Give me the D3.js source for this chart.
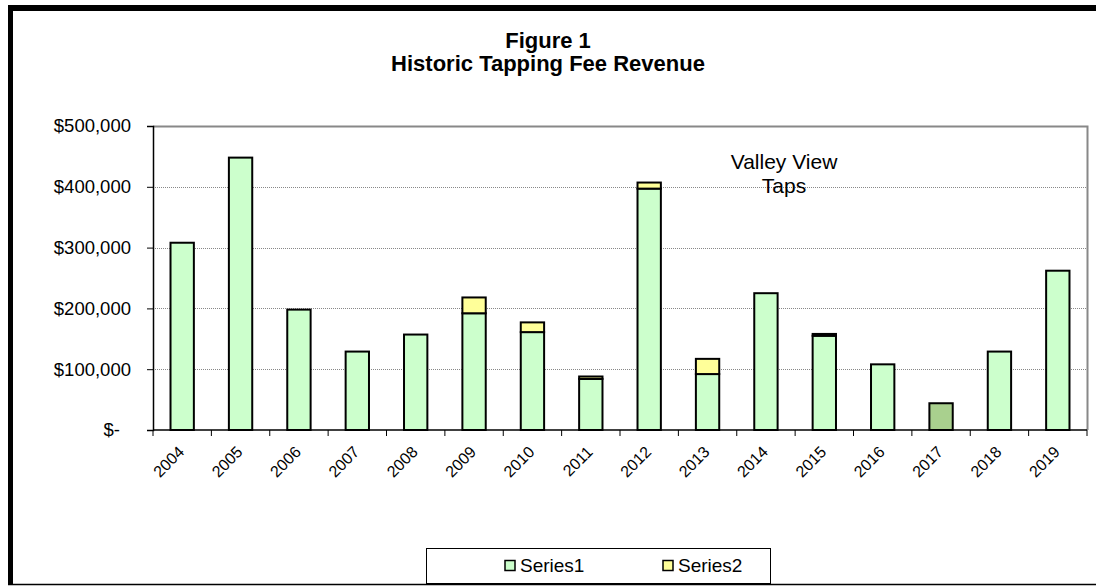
<!DOCTYPE html>
<html>
<head>
<meta charset="utf-8">
<script src="https://cdn.jsdelivr.net/npm/d3@7"></script>
<style>
  body { margin: 0; background: #fff; }
  svg { display: block; font-family: "Liberation Sans", Arial, sans-serif; }
</style>
</head>
<body>
<svg id="chart" width="1096" height="586"></svg>
<script>
// values
let years = ["2004","2005","2006","2007","2008","2009","2010","2011",
             "2012","2013","2014","2015","2016","2017","2018","2019"];
let series1 = [308000, 448000, 198000, 129000, 157000, 192000, 161000, 84000,
               397000, 92000, 225000, 155000, 108000, 44000, 129000, 262000];
let series2 = [0, 0, 0, 0, 0, 26000, 16000, 4000,
               10000, 25000, 0, 3000, 0, 0, 0, 0];
let yTicks = [0, 100000, 200000, 300000, 400000, 500000];
let seriesNames = ["Series1", "Series2"];

let svg = d3.select("#chart");
let plotLeft = 153, plotRight = 1087, plotTop = 126, plotBottom = 430;

let x = d3.scaleBand()
  .domain(years)
  .range([plotLeft, plotRight])
  .paddingInner(0.6)
  .paddingOuter(0.3);
let xEdge = d3.scaleLinear()
  .domain([0, years.length])
  .range([plotLeft, plotRight]);
let y = d3.scaleLinear()
  .domain([0, 500000])
  .range([plotBottom, plotTop]);

// outer frame
svg.append("line").attr("x1", 8).attr("x2", 1096).attr("y1", 8).attr("y2", 8)
  .attr("stroke", "#000").attr("stroke-width", 6);
svg.append("line").attr("x1", 10.5).attr("x2", 10.5).attr("y1", 5).attr("y2", 585)
  .attr("stroke", "#000").attr("stroke-width", 5);
svg.append("line").attr("x1", 8).attr("x2", 1096).attr("y1", 584.5).attr("y2", 584.5)
  .attr("stroke", "#000").attr("stroke-width", 1.5);

// title
let title = svg.append("text")
  .attr("x", 548).attr("text-anchor", "middle")
  .style("font-weight", "bold").style("font-size", "22px");
title.append("tspan").attr("x", 548).attr("y", 48).text("Figure 1");
title.append("tspan").attr("x", 548).attr("y", 71).text("Historic Tapping Fee Revenue");

// gridlines
svg.append("g")
  .selectAll("line")
  .data(yTicks.filter(d => d > 0 && d < 500000))
  .enter().append("line")
  .attr("x1", plotLeft).attr("x2", plotRight)
  .attr("y1", d => Math.round(y(d)) + 0.5).attr("y2", d => Math.round(y(d)) + 0.5)
  .attr("stroke", "#888").attr("stroke-dasharray", "1,1");

// plot border top / right
svg.append("path")
  .attr("d", `M${plotLeft},${plotTop + 0.5}H${plotRight + 0.5}V${plotBottom}`)
  .attr("fill", "none").attr("stroke", "#888").attr("stroke-width", 2);

// annotation
let note = svg.append("text").attr("text-anchor", "middle").style("font-size", "21px");
note.append("tspan").attr("x", 784).attr("y", 169).text("Valley View");
note.append("tspan").attr("x", 784).attr("y", 193).text("Taps");

// bars
let rows = years.map((yr, i) => ({ year: yr, a: series1[i], b: series2[i] }));
let bars = svg.append("g");
bars.selectAll("rect.s1")
  .data(rows)
  .enter().append("rect")
  .attr("class", "s1")
  .attr("x", d => x(d.year))
  .attr("width", x.bandwidth())
  .attr("y", d => y(d.a))
  .attr("height", d => y(0) - y(d.a))
  .attr("fill", d => d.year === "2017" ? "#a9d08e" : "#ccffcc")
  .attr("stroke", "#000").attr("stroke-width", 2);
bars.selectAll("rect.s2")
  .data(rows.filter(d => d.b > 0))
  .enter().append("rect")
  .attr("class", "s2")
  .attr("x", d => x(d.year))
  .attr("width", x.bandwidth())
  .attr("y", d => y(d.a + d.b))
  .attr("height", d => y(d.a) - y(d.a + d.b))
  .attr("fill", "#ffff99")
  .attr("stroke", "#000").attr("stroke-width", 2);

// y axis
let yAxis = svg.append("g")
  .attr("transform", `translate(${plotLeft},0)`)
  .call(d3.axisLeft(y)
    .tickValues(yTicks)
    .tickSize(6)
    .tickPadding(16)
    .tickFormat(d => d === 0 ? "$-" : "$" + d3.format(",")(d)));
yAxis.select(".domain").attr("stroke", "#000").attr("stroke-width", 1.5);
yAxis.selectAll(".tick line").attr("stroke", "#000");
yAxis.selectAll(".tick text")
  .style("font-size", "18.5px").attr("fill", "#000")
  .attr("dx", d => d === 0 ? -11 : 0);

// x axis line and ticks at band edges
svg.append("line")
  .attr("x1", plotLeft).attr("x2", plotRight).attr("y1", plotBottom).attr("y2", plotBottom)
  .attr("stroke", "#000").attr("stroke-width", 1.5);
svg.append("g")
  .selectAll("line")
  .data(d3.range(years.length + 1))
  .enter().append("line")
  .attr("x1", d => xEdge(d)).attr("x2", d => xEdge(d))
  .attr("y1", plotBottom).attr("y2", plotBottom + 6)
  .attr("stroke", "#000");
svg.append("g")
  .selectAll("text")
  .data(years)
  .enter().append("text")
  .attr("transform", d => `translate(${x(d) + x.bandwidth() / 2 + 3},${plotBottom + 23}) rotate(-45)`)
  .attr("text-anchor", "end")
  .style("font-size", "16px")
  .text(d => d);

// legend
let lg = svg.append("g");
lg.append("rect")
  .attr("x", 426.5).attr("y", 548.5).attr("width", 344).attr("height", 35)
  .attr("fill", "#fff").attr("stroke", "#000").attr("stroke-width", 1);
let legendX = [505, 663];
let legendFill = ["#ccffcc", "#ffff99"];
seriesNames.forEach((name, i) => {
  lg.append("rect")
    .attr("x", legendX[i]).attr("y", 560.5).attr("width", 10).attr("height", 10)
    .attr("fill", legendFill[i]).attr("stroke", "#000").attr("stroke-width", 1.5);
  lg.append("text")
    .attr("x", legendX[i] + 15).attr("y", 572)
    .style("font-size", "19px")
    .text(name);
});
</script>
</body>
</html>
